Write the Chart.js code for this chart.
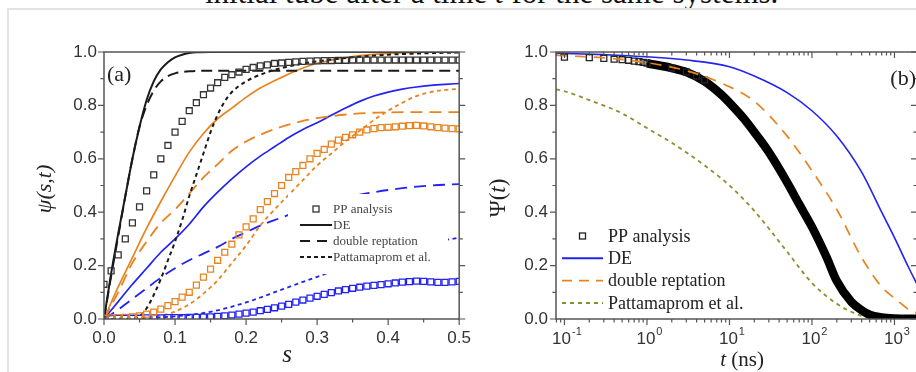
<!DOCTYPE html>
<html>
<head>
<meta charset="utf-8">
<script src="https://cdn.jsdelivr.net/npm/chart.js@4.4.0/dist/chart.umd.min.js"></script>
<style>
html, body { margin: 0; padding: 0; background: #fff; overflow: hidden; width: 916px; height: 372px; }
#caption { position: absolute; left: 205px; top: -23px; font: 31px/31px "Liberation Serif", serif; color: #111; white-space: nowrap; }
#frame { position: absolute; left: 7px; top: 8px; width: 930px; height: 380px; border-left: 2px solid #e3e3e3; border-top: 2px solid #e3e3e3; }
#left { position: absolute; left: 0; top: 0; }
#right { position: absolute; left: 470px; top: 0; }
</style>
</head>
<body>
<div id="caption">initial tube after a time <i>t</i> for the same systems.</div>
<div id="frame"></div>
<canvas id="left" width="480" height="372"></canvas>
<canvas id="right" width="470" height="372"></canvas>
<script>
// ---------- panel (a): psi(s,t) vs s ----------
const S_SQ = [0, 0.01, 0.02, 0.03, 0.04, 0.05, 0.06, 0.07, 0.08, 0.09,
    0.10, 0.11, 0.12, 0.13, 0.14, 0.15, 0.16, 0.17, 0.18, 0.19,
    0.20, 0.21, 0.22, 0.23, 0.24, 0.25, 0.26, 0.27, 0.28, 0.29,
    0.30, 0.31, 0.32, 0.33, 0.34, 0.35, 0.36, 0.37, 0.38, 0.39,
    0.40, 0.41, 0.42, 0.43, 0.44, 0.45, 0.46, 0.47, 0.48, 0.49, 0.50];

// PP analysis (squares)
const ppBlack = [0.13, 0.18, 0.24, 0.30, 0.36, 0.42, 0.48, 0.54, 0.60, 0.65,
    0.70, 0.74, 0.78, 0.81, 0.84, 0.865, 0.885, 0.905, 0.915, 0.925,
    0.935, 0.942, 0.948, 0.952, 0.957, 0.959, 0.961, 0.963, 0.965, 0.966,
    0.967, 0.968, 0.968, 0.969, 0.969, 0.97, 0.97, 0.97, 0.97, 0.97,
    0.97, 0.97, 0.97, 0.97, 0.97, 0.97, 0.97, 0.97, 0.97, 0.97, 0.97];
const ppOrange = [0.003, 0.004, 0.005, 0.006, 0.008, 0.012, 0.018, 0.026, 0.037, 0.05,
    0.065, 0.082, 0.10, 0.127, 0.157, 0.187, 0.22, 0.25, 0.28, 0.315,
    0.345, 0.375, 0.41, 0.44, 0.47, 0.50, 0.53, 0.552, 0.575, 0.60,
    0.62, 0.635, 0.655, 0.67, 0.68, 0.69, 0.70, 0.708, 0.713, 0.717,
    0.718, 0.72, 0.722, 0.724, 0.725, 0.723, 0.72, 0.717, 0.715, 0.713, 0.712];
const ppBlue = [0.002, 0.002, 0.003, 0.003, 0.003, 0.003, 0.004, 0.004, 0.004, 0.005,
    0.005, 0.005, 0.006, 0.006, 0.007, 0.008, 0.01, 0.012, 0.015, 0.018,
    0.022, 0.026, 0.031, 0.036, 0.042, 0.048, 0.055, 0.063, 0.071, 0.078,
    0.085, 0.092, 0.099, 0.105, 0.11, 0.115, 0.119, 0.123, 0.126, 0.129,
    0.132, 0.135, 0.138, 0.14, 0.142, 0.141, 0.139, 0.137, 0.137, 0.139, 0.141];

// DE (solid)
const deBlackS = [0, 0.01, 0.02, 0.03, 0.04, 0.05, 0.06, 0.07, 0.08, 0.09, 0.10, 0.11, 0.12, 0.13, 0.15, 0.5];
const deBlack  = [0, 0.17, 0.32, 0.46, 0.60, 0.72, 0.82, 0.89, 0.935, 0.962, 0.98, 0.99, 0.996, 0.999, 1, 1];
const deOrangeS = [0, 0.02, 0.04, 0.06, 0.08, 0.10, 0.12, 0.14, 0.16, 0.18, 0.20, 0.22, 0.25, 0.28, 0.30, 0.35, 0.40, 0.45, 0.50];
const deOrange  = [0, 0.12, 0.23, 0.34, 0.44, 0.535, 0.625, 0.695, 0.75, 0.79, 0.83, 0.865, 0.905, 0.94, 0.958, 0.983, 0.995, 0.999, 1];
const deBlueS = [0, 0.02, 0.04, 0.06, 0.08, 0.10, 0.12, 0.14, 0.16, 0.18, 0.20, 0.22, 0.24, 0.26, 0.28, 0.30, 0.32, 0.34, 0.36, 0.38, 0.40, 0.42, 0.44, 0.46, 0.48, 0.50];
const deBlue  = [0, 0.065, 0.13, 0.19, 0.25, 0.30, 0.355, 0.42, 0.475, 0.525, 0.57, 0.61, 0.645, 0.68, 0.71, 0.735, 0.763, 0.79, 0.815, 0.835, 0.85, 0.861, 0.869, 0.875, 0.879, 0.882];

// double reptation (long dash)
const drBlackS = [0, 0.01, 0.02, 0.03, 0.04, 0.05, 0.06, 0.07, 0.08, 0.09, 0.10, 0.12, 0.15, 0.5];
const drBlack  = [0, 0.16, 0.31, 0.46, 0.60, 0.72, 0.80, 0.855, 0.89, 0.91, 0.92, 0.928, 0.93, 0.93];
const drOrangeS = [0, 0.02, 0.04, 0.06, 0.08, 0.10, 0.12, 0.14, 0.16, 0.18, 0.20, 0.22, 0.25, 0.28, 0.30, 0.35, 0.40, 0.50];
const drOrange  = [0, 0.10, 0.21, 0.29, 0.36, 0.41, 0.47, 0.53, 0.58, 0.63, 0.665, 0.69, 0.72, 0.742, 0.752, 0.768, 0.774, 0.775];
const drBlueS = [0, 0.02, 0.04, 0.06, 0.08, 0.10, 0.12, 0.14, 0.16, 0.18, 0.20, 0.22, 0.25, 0.30, 0.34, 0.38, 0.42, 0.46, 0.50];
const drBlue  = [0, 0.035, 0.075, 0.115, 0.155, 0.19, 0.22, 0.245, 0.27, 0.30, 0.325, 0.35, 0.38, 0.43, 0.455, 0.475, 0.49, 0.50, 0.505];

// Pattamaprom et al. (short dash)
const ptBlackS = [0, 0.04, 0.05, 0.06, 0.07, 0.08, 0.09, 0.10, 0.11, 0.12, 0.13, 0.14, 0.15, 0.16, 0.17, 0.18, 0.20, 0.22, 0.25, 0.30, 0.35, 0.40, 0.45, 0.50];
const ptBlack  = [0, 0, 0.01, 0.04, 0.09, 0.15, 0.22, 0.29, 0.37, 0.46, 0.54, 0.62, 0.70, 0.765, 0.815, 0.85, 0.89, 0.915, 0.94, 0.965, 0.98, 0.99, 0.995, 0.998];
const ptOrangeS = [0, 0.05, 0.08, 0.10, 0.12, 0.14, 0.16, 0.18, 0.20, 0.22, 0.24, 0.26, 0.28, 0.30, 0.32, 0.34, 0.36, 0.38, 0.40, 0.42, 0.44, 0.46, 0.48, 0.50];
const ptOrange  = [0, 0.002, 0.012, 0.028, 0.055, 0.095, 0.145, 0.21, 0.275, 0.35, 0.41, 0.465, 0.52, 0.575, 0.62, 0.665, 0.705, 0.745, 0.78, 0.81, 0.835, 0.85, 0.858, 0.862];
const ptBlueS = [0, 0.05, 0.10, 0.15, 0.20, 0.25, 0.30, 0.35, 0.40, 0.45, 0.50];
const ptBlue  = [0, 0.003, 0.01, 0.027, 0.062, 0.11, 0.158, 0.205, 0.245, 0.28, 0.305];

// ---------- panel (b): Psi(t) vs t (ns) ----------
const ppT   = [0.1, 0.2, 0.3, 0.4, 0.5, 0.6, 0.7, 0.8, 0.9, 1, 2, 3, 4, 5];
const ppPsi = [0.981, 0.979, 0.976, 0.973, 0.971, 0.969, 0.966, 0.964, 0.961, 0.958, 0.94, 0.925, 0.91, 0.895];
// dense part of the PP analysis, where the squares merge into a band
const ppBandT   = [1, 2, 3, 5, 8, 10, 15, 20, 30, 50, 70, 100, 150, 200, 300, 400, 500, 700, 1000, 1500, 1850];
const ppBandPsi = [0.958, 0.94, 0.925, 0.89, 0.84, 0.81, 0.75, 0.70, 0.625, 0.512, 0.43, 0.345, 0.232, 0.142, 0.064, 0.033, 0.016, 0.006, 0.002, 0.001, 0.001];
const deT   = [0.079, 0.1, 0.3, 1, 3, 10, 20, 50, 100, 200, 400, 700, 1000, 1500, 1875];
const dePsi = [0.996, 0.995, 0.99, 0.982, 0.97, 0.945, 0.91, 0.848, 0.78, 0.685, 0.55, 0.40, 0.305, 0.19, 0.13];
const drT   = [0.079, 0.1, 0.3, 1, 3, 10, 20, 50, 100, 200, 400, 700, 1000, 1500, 1875];
const drPsi = [0.988, 0.986, 0.978, 0.96, 0.93, 0.87, 0.815, 0.685, 0.555, 0.41, 0.23, 0.12, 0.078, 0.035, 0.022];
const ptT   = [0.079, 0.1, 0.2, 0.5, 1, 2, 5, 10, 20, 50, 100, 200, 400, 700, 1000, 1875];
const ptPsi = [0.86, 0.853, 0.82, 0.77, 0.715, 0.66, 0.575, 0.50, 0.405, 0.252, 0.135, 0.057, 0.012, 0.002, 0, 0];

// tick values / labels
const S_TICKS = [0, 0.1, 0.2, 0.3, 0.4, 0.5];
const S_MINOR = [0.05, 0.15, 0.25, 0.35, 0.45];
const Y_TICKS = [0, 0.2, 0.4, 0.6, 0.8, 1.0];
const Y_MINOR = [0.1, 0.3, 0.5, 0.7, 0.9];
const T_DECADES = [0.1, 1, 10, 100, 1000];
const T_EXPONENTS = ['-1', '0', '1', '2', '3'];

const SERIF = '"Liberation Serif", "Times New Roman", serif';
const SANS = '"Liberation Sans", Arial, sans-serif';
const AXIS = '#555';
const BLACK = '#1a1a1a';
const ORANGE = '#e8831f';
const BLUE = '#2222f2';
const OLIVE = '#8e8e2a';

function pts(xs, ys) {
    return xs.map((x, i) => ({ x: x, y: ys[i] }));
}

function lineSet(label, xs, ys, color, dash, width) {
    return {
        label: label,
        data: pts(xs, ys),
        showLine: true,
        borderColor: color,
        borderWidth: width || 1.6,
        borderDash: dash || [],
        pointRadius: 0,
        fill: false,
        cubicInterpolationMode: 'monotone'
    };
}

function squareSet(label, xs, ys, color) {
    return {
        label: label,
        data: pts(xs, ys),
        showLine: false,
        pointStyle: 'rect',
        pointRadius: 4.2,
        pointBorderWidth: 1.3,
        pointBorderColor: color,
        pointBackgroundColor: 'rgba(255,255,255,0)',
        borderColor: color
    };
}

function drawRuns(ctx, runs, x, y, size, align) {
    const fonts = runs.map(r => (r.i ? 'italic ' : '') + size + 'px ' + SERIF);
    let w = 0;
    runs.forEach((r, k) => { ctx.font = fonts[k]; w += ctx.measureText(r.t).width; });
    let cx = align === 'center' ? x - w / 2 : (align === 'right' ? x - w : x);
    ctx.textAlign = 'left';
    runs.forEach((r, k) => {
        ctx.font = fonts[k];
        ctx.fillText(r.t, cx, y);
        cx += ctx.measureText(r.t).width;
    });
}

// frame, tick marks, legend and titles
const decor = {
    id: 'decor',
    afterDatasetsDraw(chart, args, o) {
        const ctx = chart.ctx, a = chart.chartArea;
        const sx = chart.scales.x, sy = chart.scales.y;
        ctx.save();

        if (o.mask) {
            ctx.fillStyle = '#fff';
            ctx.fillRect(a.left + o.mask[0], a.top + o.mask[1], o.mask[2], o.mask[3]);
        }

        ctx.strokeStyle = AXIS;
        ctx.lineWidth = 1.5;
        ctx.strokeRect(a.left, a.top, a.right - a.left, a.bottom - a.top);

        // tick marks: positive length = outward, negative = inward
        const E = o.edges;
        ctx.lineWidth = 1.2;
        ctx.beginPath();
        const seg = (x1, y1, x2, y2) => { ctx.moveTo(x1, y1); ctx.lineTo(x2, y2); };
        const xt = (v, f) => {
            const p = sx.getPixelForValue(v);
            if (E.bottom) seg(p, a.bottom, p, a.bottom + E.bottom * f);
            if (E.top) seg(p, a.top, p, a.top - E.top * f);
        };
        const yt = (v, f) => {
            const p = sy.getPixelForValue(v);
            if (E.left) seg(a.left, p, a.left - E.left * f, p);
            if (E.right) seg(a.right, p, a.right + E.right * f, p);
        };
        o.xMajor.forEach(v => xt(v, 1));
        o.xMinor.forEach(v => xt(v, 0.6));
        o.yMajor.forEach(v => yt(v, 1));
        o.yMinor.forEach(v => yt(v, 0.6));
        ctx.stroke();

        // log axis labels 10^n
        if (o.logLabels) {
            ctx.fillStyle = '#333';
            ctx.textBaseline = 'alphabetic';
            o.logLabels.values.forEach((v, i) => {
                const p = sx.getPixelForValue(v);
                ctx.font = '17px ' + SANS;
                const wb = ctx.measureText('10').width;
                ctx.font = '11px ' + SANS;
                const we = ctx.measureText(o.logLabels.exps[i]).width;
                const x0 = p - (wb + we) / 2 + 2;
                ctx.font = '17px ' + SANS;
                ctx.textAlign = 'left';
                ctx.fillText('10', x0, a.bottom + 25);
                ctx.font = '11px ' + SANS;
                ctx.fillText(o.logLabels.exps[i], x0 + wb + 1, a.bottom + 16);
            });
        }

        // legend
        const L = o.legend;
        ctx.textBaseline = 'middle';
        L.rows.forEach((r, i) => {
            const y = a.top + L.y + i * L.dy;
            const x0 = a.left + L.x;
            ctx.setLineDash([]);
            ctx.strokeStyle = r.color;
            if (r.kind === 'sq') {
                ctx.lineWidth = 1.3;
                ctx.strokeRect(x0 + L.len / 2 - 3, y - 3, 6, 6);
            } else {
                ctx.lineWidth = r.width;
                ctx.setLineDash(r.dash);
                ctx.beginPath();
                ctx.moveTo(x0, y);
                ctx.lineTo(x0 + L.len, y);
                ctx.stroke();
                ctx.setLineDash([]);
            }
            ctx.fillStyle = L.color;
            ctx.font = L.size + 'px ' + SERIF;
            ctx.textAlign = 'left';
            ctx.fillText(r.label, a.left + L.tx, y + 1);
        });

        // panel label
        ctx.fillStyle = '#222';
        ctx.font = o.panel.size + 'px ' + SERIF;
        ctx.textAlign = o.panel.align;
        ctx.fillText(o.panel.text, o.panel.align === 'left' ? a.left + o.panel.x : a.right - o.panel.x, a.top + o.panel.y);

        // axis titles
        ctx.fillStyle = '#222';
        o.titles.forEach(t => {
            ctx.save();
            ctx.translate(t.x, t.y);
            if (t.rot) ctx.rotate(-Math.PI / 2);
            ctx.textBaseline = t.rot ? 'middle' : 'alphabetic';
            drawRuns(ctx, t.runs, 0, 0, t.size, 'center');
            ctx.restore();
        });

        ctx.restore();
    }
};

const tickFont = { family: SANS, size: 17 };

// panel (a)
new Chart(document.getElementById('left').getContext('2d'), {
    type: 'scatter',
    data: {
        datasets: [
            squareSet('PP black', S_SQ, ppBlack, '#333'),
            squareSet('PP orange', S_SQ, ppOrange, ORANGE),
            squareSet('PP blue', S_SQ, ppBlue, BLUE),
            lineSet('DE black', deBlackS, deBlack, BLACK, [], 2),
            lineSet('DR black', drBlackS, drBlack, BLACK, [11, 6], 2),
            lineSet('PT black', ptBlackS, ptBlack, BLACK, [4, 3.5], 2),
            lineSet('DE orange', deOrangeS, deOrange, ORANGE, [], 1.7),
            lineSet('DR orange', drOrangeS, drOrange, ORANGE, [12, 7], 1.8),
            lineSet('PT orange', ptOrangeS, ptOrange, ORANGE, [4, 3.5], 1.8),
            lineSet('DE blue', deBlueS, deBlue, BLUE, [], 1.7),
            lineSet('DR blue', drBlueS, drBlue, BLUE, [12, 7], 1.8),
            lineSet('PT blue', ptBlueS, ptBlue, BLUE, [4, 3.5], 1.8)
        ]
    },
    options: {
        responsive: false,
        animation: false,
        layout: { padding: { top: 52, right: 13, left: 0, bottom: 0 } },
        scales: {
            x: {
                type: 'linear', min: 0, max: 0.5,
                afterBuildTicks: s => { s.ticks = S_TICKS.map(v => ({ value: v })); },
                afterFit: s => { s.height = 53; },
                ticks: { padding: 9, font: tickFont, color: '#333', maxRotation: 0, autoSkip: false,
                    callback: v => v.toFixed(1) },
                grid: { display: false, drawTicks: false },
                border: { display: false }
            },
            y: {
                type: 'linear', min: 0, max: 1,
                afterBuildTicks: s => { s.ticks = Y_TICKS.map(v => ({ value: v })); },
                afterFit: s => { s.width = 104; },
                ticks: { padding: 7, font: tickFont, color: '#333', callback: v => v.toFixed(1) },
                grid: { display: false, drawTicks: false },
                border: { display: false }
            }
        },
        plugins: {
            legend: { display: false },
            tooltip: { enabled: false },
            decor: {
                mask: [184, 142, 160, 80],
                edges: { bottom: 6, top: 0, left: 6, right: 6 },
                xMajor: S_TICKS, xMinor: S_MINOR, yMajor: Y_TICKS, yMinor: Y_MINOR,
                legend: {
                    x: 196, len: 32, tx: 229, y: 157, dy: 16, size: 13, color: '#444',
                    rows: [
                        { kind: 'sq', color: '#333', label: 'PP analysis' },
                        { kind: 'line', color: BLACK, dash: [], width: 2, label: 'DE' },
                        { kind: 'line', color: BLACK, dash: [10, 7], width: 2, label: 'double reptation' },
                        { kind: 'line', color: BLACK, dash: [4, 3], width: 2, label: 'Pattamaprom et al.' }
                    ]
                },
                panel: { text: '(a)', x: 3, y: 23, size: 22, align: 'left' },
                titles: [
                    { runs: [{ t: 'ψ(s,t)', i: true }], x: 45, y: 189, rot: true, size: 22 },
                    { runs: [{ t: 's', i: true }], x: 287, y: 362, rot: false, size: 25 }
                ]
            }
        }
    },
    plugins: [decor]
});

// panel (b)
function logMinors(min, max) {
    const out = [];
    [0.01, 0.1, 1, 10, 100, 1000].forEach(d => {
        for (let k = 2; k <= 9; k++) {
            const v = k * d;
            if (v >= min && v <= max) out.push(v);
        }
    });
    return out;
}

const T_MIN = 0.079, T_MAX = 1875;

new Chart(document.getElementById('right').getContext('2d'), {
    type: 'scatter',
    data: {
        datasets: [
            lineSet('double reptation', drT, drPsi, ORANGE, [11, 8], 1.7),
            squareSet('PP analysis', ppT, ppPsi, '#222'),
            lineSet('PP band', ppBandT, ppBandPsi, '#000', [], 8.5),
            lineSet('DE', deT, dePsi, BLUE, [], 1.6),
            lineSet('Pattamaprom et al.', ptT, ptPsi, OLIVE, [4, 4], 1.8)
        ]
    },
    options: {
        responsive: false,
        animation: false,
        layout: { padding: { top: 52, right: 23, left: 0, bottom: 0 } },
        scales: {
            x: {
                type: 'logarithmic', min: T_MIN, max: T_MAX,
                afterFit: s => { s.height = 53; },
                ticks: { display: false },
                grid: { display: false, drawTicks: false },
                border: { display: false }
            },
            y: {
                type: 'linear', min: 0, max: 1,
                afterBuildTicks: s => { s.ticks = Y_TICKS.map(v => ({ value: v })); },
                afterFit: s => { s.width = 86; },
                ticks: { padding: 8, font: tickFont, color: '#333', callback: v => v.toFixed(1) },
                grid: { display: false, drawTicks: false },
                border: { display: false }
            }
        },
        plugins: {
            legend: { display: false },
            tooltip: { enabled: false },
            decor: {
                edges: { bottom: 6, top: -6, left: 6, right: -6 },
                xMajor: T_DECADES, xMinor: logMinors(T_MIN, T_MAX), yMajor: Y_TICKS, yMinor: Y_MINOR,
                logLabels: { values: T_DECADES, exps: T_EXPONENTS },
                legend: {
                    x: 6, len: 41, tx: 52, y: 184, dy: 22.3, size: 18, color: '#222',
                    rows: [
                        { kind: 'sq', color: '#222', label: 'PP analysis' },
                        { kind: 'line', color: BLUE, dash: [], width: 2, label: 'DE' },
                        { kind: 'line', color: ORANGE, dash: [10, 7], width: 1.8, label: 'double reptation' },
                        { kind: 'line', color: OLIVE, dash: [4, 4], width: 2, label: 'Pattamaprom et al.' }
                    ]
                },
                panel: { text: '(b)', x: 1, y: 27, size: 22, align: 'right' },
                titles: [
                    { runs: [{ t: 'Ψ(' }, { t: 't', i: true }, { t: ')' }], x: 29, y: 198, rot: true, size: 23 },
                    { runs: [{ t: 't', i: true }, { t: ' (ns)' }], x: 272, y: 366, rot: false, size: 21 }
                ]
            }
        }
    },
    plugins: [decor]
});
</script>
</body>
</html>
